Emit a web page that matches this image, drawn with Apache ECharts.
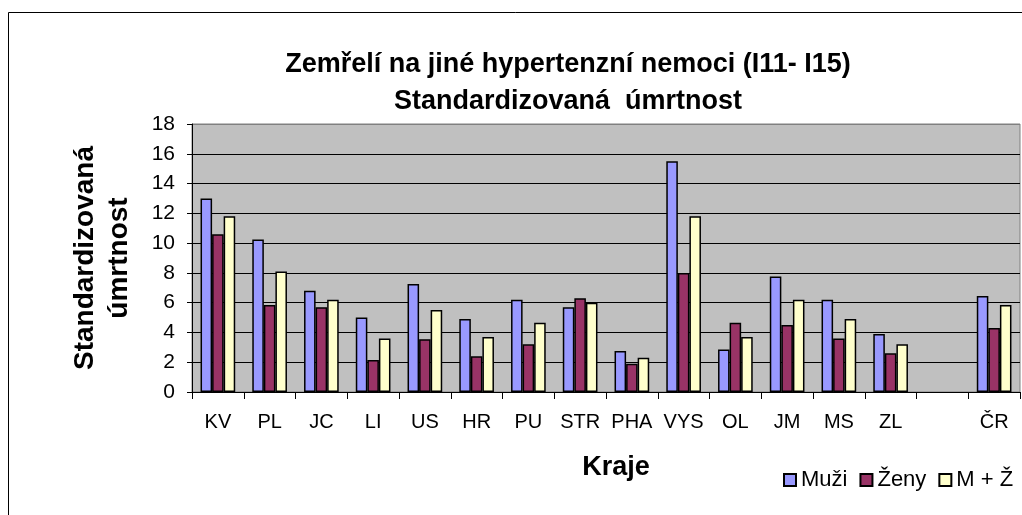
<!DOCTYPE html>
<html>
<head>
    <meta charset="utf-8">
    <title>index</title>
    <script src="https://cdn.jsdelivr.net/npm/echarts@6/dist/echarts.min.js"></script>
    <style>
        html, body { margin: 0; padding: 0; background: #fff; }
        #chart { width: 1022px; height: 515px; }
    </style>
</head>
<body>
    <div id="chart"></div>
<script>
    var kraje = ['KV', 'PL', 'JC', 'LI', 'US', 'HR', 'PU', 'STR', 'PHA', 'VYS', 'OL', 'JM', 'MS', 'ZL', '', 'ČR'];
    var muzi = [13.0, 10.25, 6.8, 5.0, 7.25, 4.9, 6.2, 5.7, 2.75, 15.5, 2.85, 7.75, 6.2, 3.9, null, 6.45];
    var zeny = [10.6, 5.85, 5.7, 2.15, 3.55, 2.4, 3.2, 6.3, 1.9, 8.0, 4.65, 4.5, 3.6, 2.6, null, 4.3];
    var mz = [11.8, 8.1, 6.2, 3.6, 5.5, 3.7, 4.65, 6.0, 2.3, 11.8, 3.7, 6.2, 4.9, 3.2, null, 5.85];

    var font = '"Liberation Sans", Arial, sans-serif';
    // last split line (18) is the grey plot border
    var gridColors = ['#000', '#000', '#000', '#000', '#000', '#000', '#000', '#000', '#000', '#808080'];

    var chart = echarts.init(document.getElementById('chart'));
    var barStyle = function (c) {
        return { color: c, borderColor: '#000', borderWidth: 1.5 };
    };
    chart.setOption({
        animation: false,
        textStyle: { fontFamily: font, color: '#000' },
        graphic: [{
            type: 'rect',
            shape: { x: 8.5, y: 12.5, width: 1200, height: 800 },
            style: { fill: 'none', stroke: '#000', lineWidth: 1 },
            silent: true
        }],
        title: {
            text: 'Zemřelí na jiné hypertenzní nemoci (I11- I15)\nStandardizovaná  úmrtnost',
            left: 563,
            textAlign: 'center',
            top: 41,
            textStyle: { fontFamily: font, fontSize: 27, fontWeight: 'bold', lineHeight: 37, color: '#000' }
        },
        legend: {
            left: 778,
            top: 464,
            itemWidth: 12,
            itemHeight: 12,
            itemGap: 12,
            icon: 'rect',
            textStyle: { fontFamily: font, fontSize: 22, color: '#000' },
            data: ['Muži', 'Ženy', 'M + Ž']
        },
        grid: {
            left: 192, top: 124, right: 2, bottom: 123,
            show: true, backgroundColor: '#C0C0C0', borderColor: '#808080', borderWidth: 1
        },
        xAxis: {
            type: 'category',
            data: kraje,
            name: 'Kraje',
            nameLocation: 'middle',
            nameGap: 62,
            nameTextStyle: { fontFamily: font, fontSize: 27, fontWeight: 'bold', color: '#000', padding: [0, 0, 0, 20] },
            axisLine: { lineStyle: { color: '#000', width: 1 } },
            axisTick: { show: true, interval: 0, length: 7, lineStyle: { color: '#000' } },
            axisLabel: { fontFamily: font, fontSize: 20, color: '#000', margin: 20, interval: 0 }
        },
        yAxis: {
            type: 'value',
            min: 0, max: 18, interval: 2,
            name: 'Standardizovaná\númrtnost',
            nameLocation: 'middle',
            nameRotate: 90,
            nameGap: 56,
            nameTextStyle: { fontFamily: font, fontSize: 28, fontWeight: 'bold', lineHeight: 34, color: '#000' },
            axisLine: { show: true, lineStyle: { color: '#000', width: 1 } },
            axisTick: { show: true, length: 5, lineStyle: { color: '#000' } },
            axisLabel: { fontFamily: font, fontSize: 21, color: '#000', margin: 17 },
            splitLine: { show: true, lineStyle: { color: gridColors, width: 1 } }
        },
        series: [
            { name: 'Muži', type: 'bar', data: muzi, barGap: '0%', barCategoryGap: '33%', itemStyle: barStyle('#9999FF') },
            { name: 'Ženy', type: 'bar', data: zeny, itemStyle: barStyle('#993366') },
            { name: 'M + Ž', type: 'bar', data: mz, itemStyle: barStyle('#FFFFCC') }
        ]
    });
</script>
</body>
</html>
